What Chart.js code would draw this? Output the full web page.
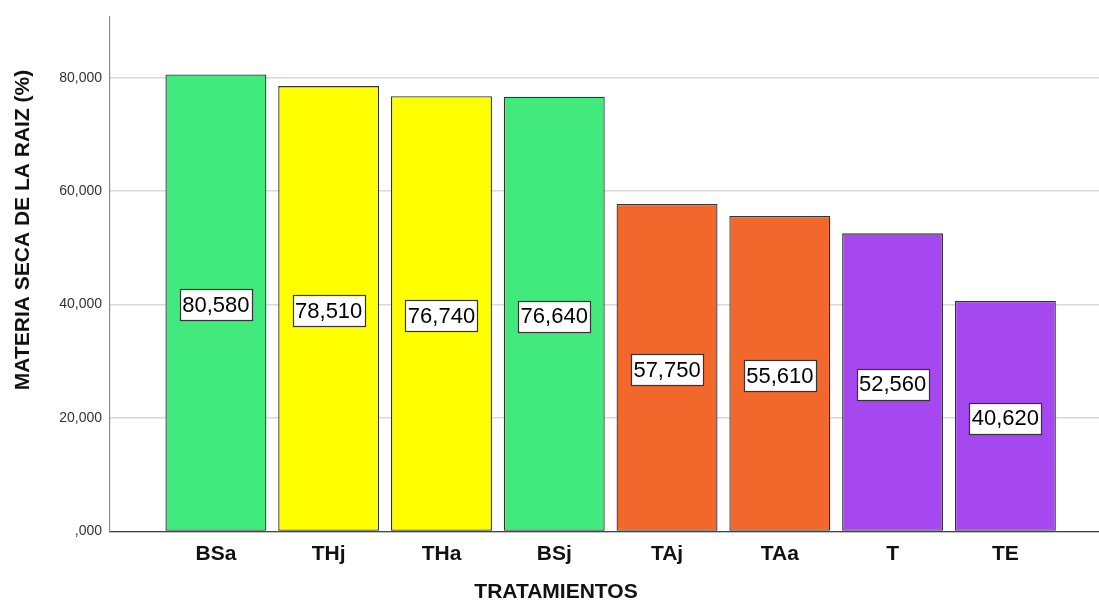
<!DOCTYPE html>
<html>
<head>
<meta charset="utf-8">
<script src="https://cdn.jsdelivr.net/npm/chart.js@4.4.1/dist/chart.umd.min.js"></script>
<style>
  html, body { margin: 0; padding: 0; background: #ffffff; }
  #wrap { width: 1099px; height: 600px; }
</style>
</head>
<body>
<div id="wrap"><canvas id="c" width="1099" height="600"></canvas></div>
<script>
// Treatments and their root dry matter (%)
const categories = ['BSa', 'THj', 'THa', 'BSj', 'TAj', 'TAa', 'T', 'TE'];
const values = [80.58, 78.51, 76.74, 76.64, 57.75, 55.61, 52.56, 40.62];
const groupColors = ['#42EA7E', '#FFFF00', '#FFFF00', '#42EA7E', '#F2682C', '#F2682C', '#A648F0', '#A648F0'];
const yTicks = [0, 20, 40, 60, 80];
const yTitle = 'MATERIA SECA DE LA RAIZ (%)';
const xTitle = 'TRATAMIENTOS';

const FONT = '"Liberation Sans", Arial, sans-serif';

// Spanish-style number with three decimals: 80,580 / ,000
function fmt(v) {
  const s = v.toFixed(3).replace('.', ',');
  return s.startsWith('0,') ? s.slice(1) : s;
}

const points = values.map((v, i) => ({ x: i, y: v }));

// White boxed value label at mid-height of each bar, plus the axis titles
const annotate = {
  id: 'annotate',
  afterDatasetsDraw(chart) {
    const ctx = chart.ctx;
    const meta = chart.getDatasetMeta(0);
    const yScale = chart.scales.y;
    ctx.save();
    ctx.font = '22px ' + FONT;
    ctx.textAlign = 'center';
    ctx.textBaseline = 'middle';
    meta.data.forEach((bar, i) => {
      const txt = fmt(values[i]);
      const cy = yScale.getPixelForValue(values[i] / 2) + 2;
      const w = Math.round(ctx.measureText(txt).width + 5);
      const h = 31;
      const x0 = Math.round(bar.x - w / 2) + 0.5;
      const y0 = Math.round(cy - h / 2) + 0.5;
      ctx.fillStyle = '#ffffff';
      ctx.fillRect(x0, y0, w, h);
      ctx.strokeStyle = '#333333';
      ctx.lineWidth = 1.2;
      ctx.strokeRect(x0, y0, w, h);
      ctx.fillStyle = '#000000';
      ctx.fillText(txt, bar.x, cy + 1);
    });
    ctx.restore();
  },
  afterDraw(chart) {
    const ctx = chart.ctx;
    ctx.save();
    ctx.fillStyle = '#111111';
    ctx.font = 'bold 21px ' + FONT;
    ctx.textAlign = 'center';
    ctx.textBaseline = 'middle';
    ctx.fillText(xTitle, 556, 592);
    ctx.translate(23, 230);
    ctx.rotate(-Math.PI / 2);
    ctx.fillText(yTitle, 0, 0);
    ctx.restore();
  }
};

new Chart(document.getElementById('c'), {
  type: 'bar',
  data: {
    datasets: [{
      data: points,
      backgroundColor: groupColors,
      borderColor: '#333333',
      borderWidth: 1.3,
      borderSkipped: false,
      barPercentage: 0.895,
      categoryPercentage: 1.0
    }]
  },
  options: {
    responsive: false,
    animation: false,
    devicePixelRatio: 1,
    layout: { padding: { top: 12, left: 0, right: 0, bottom: 0 } },
    plugins: { legend: { display: false }, tooltip: { enabled: false } },
    scales: {
      x: {
        type: 'linear',
        offset: false,
        bounds: 'data',
        min: -0.939,
        max: 7.83,
        afterFit(scale) { scale.height = 68.5; },
        afterBuildTicks(scale) {
          scale.ticks = categories.map((c, i) => ({ value: i }));
        },
        ticks: {
          autoSkip: false,
          maxRotation: 0,
          padding: 10,
          color: '#111111',
          font: { family: FONT, size: 21, weight: 'bold' },
          callback: (v) => categories[v] ?? ''
        },
        grid: { display: false, drawTicks: false, offset: false },
        border: { display: true, color: '#444444', width: 1.2 }
      },
      y: {
        min: 0,
        max: 90.8,
        afterFit(scale) { scale.width = 110; },
        afterBuildTicks(scale) {
          scale.ticks = yTicks.map(v => ({ value: v }));
        },
        ticks: {
          padding: 8,
          color: '#333333',
          font: { family: FONT, size: 14 },
          callback: (v) => fmt(v)
        },
        grid: { color: '#d9d9d9', lineWidth: 1.6, drawTicks: false },
        border: { display: true, color: '#8c8c8c', width: 1.2 }
      }
    }
  },
  plugins: [annotate]
});
</script>
</body>
</html>
